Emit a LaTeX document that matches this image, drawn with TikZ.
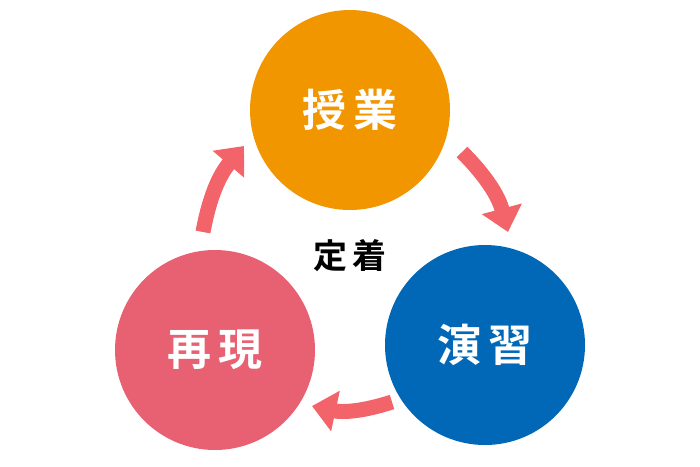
\documentclass[tikz,border=0pt]{standalone}
\usepackage{fontspec}
\newfontfamily\cjk{Noto Sans CJK JP Bold}
\usetikzlibrary{arrows.meta}
\definecolor{corange}{HTML}{F29600}
\definecolor{cblue}{HTML}{0068B7}
\definecolor{cpink}{HTML}{E86173}
\definecolor{carrow}{HTML}{F2646A}
\begin{document}
\begin{tikzpicture}[x=1pt,y=-1pt,
  disc/.style={circle,minimum size=200pt,inner sep=0pt,text=white,font=\cjk\fontsize{44}{48}\selectfont},
  flow/.style={carrow,line width=15pt,-{Triangle[length=24pt,width=40pt]}}]
\useasboundingbox (0,0) rectangle (700,466);
\node[disc,fill=corange] (a) at (350,110) {授\,業};
\node[disc,fill=cblue] (b) at (485,345) {演\,習};
\node[disc,fill=cpink] (c) at (215,350) {再\,現};
\node[font=\cjk\fontsize{34}{38}\selectfont] (t) at (350,256) {定\,着};
\coordinate (a1) at (462,152); \coordinate (a2) at (508,232);
\coordinate (b1) at (392,402); \coordinate (b2) at (312,406);
\coordinate (c1) at (203,232); \coordinate (c2) at (244,146);
\draw[flow] (a1) to[bend left=15] (a2);
\draw[flow] (b1) to[bend left=15] (b2);
\draw[flow] (c1) to[bend left=15] (c2);
\end{tikzpicture}
\end{document}
